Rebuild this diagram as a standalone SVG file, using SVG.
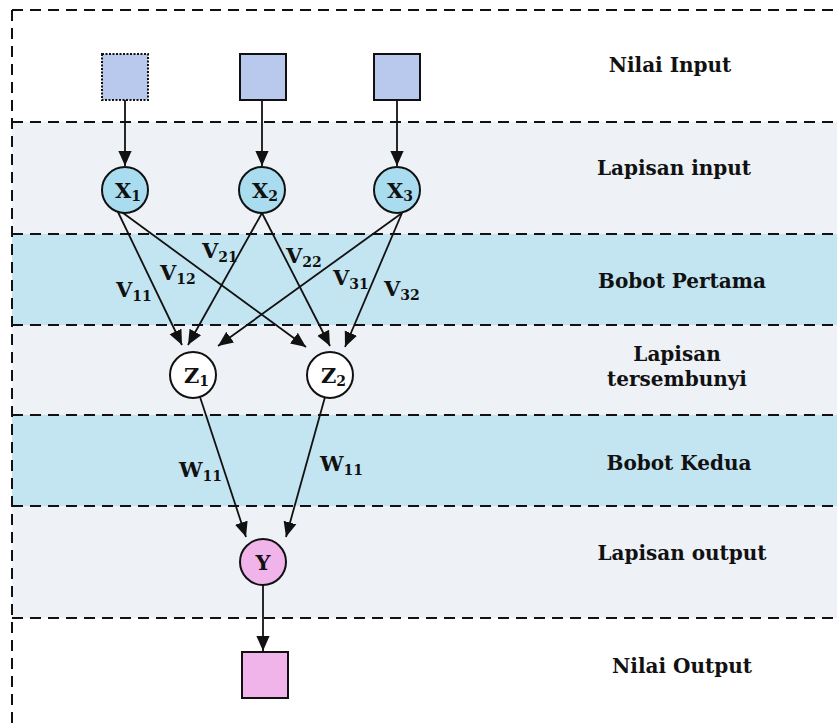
<svg xmlns="http://www.w3.org/2000/svg" width="837" height="728" viewBox="0 0 837 728">
<defs>
<marker id="ahb" viewBox="0 0 10 10" refX="10" refY="5" markerWidth="15" markerHeight="15" markerUnits="userSpaceOnUse" orient="auto">
<path d="M0,0.6 L10,5 L0,9.4 z" fill="#111"/>
</marker>
</defs>
<style>
text{font-family:"DejaVu Serif","Liberation Serif",serif;font-weight:bold;fill:#111}
.dash{stroke:#111;stroke-width:2;stroke-dasharray:11 7;fill:none}
.lbl{font-size:20px;text-anchor:middle}
.el{font-size:21px}
.sub{font-size:14px}
.nd{font-size:21px}
.edge{stroke:#111;stroke-width:1.8;fill:none;marker-end:url(#ahb)}
.sq{fill:#b9c9ee;stroke:#111;stroke-width:2}
.cx{fill:#a9dcef;stroke:#111;stroke-width:2}
.cz{fill:#fff;stroke:#111;stroke-width:2}
.cy{fill:#f0b3ea;stroke:#111;stroke-width:2}
</style>
<rect width="837" height="728" fill="#fff"/>
<g id="bands">
<rect x="12" y="122" width="825" height="112" fill="#eef2f7"/>
<rect x="12" y="234" width="825" height="91" fill="#c3e5f2"/>
<rect x="12" y="325" width="825" height="90" fill="#eef2f7"/>
<rect x="12" y="415" width="825" height="91" fill="#c3e5f2"/>
<rect x="12" y="506" width="825" height="112" fill="#eef2f7"/>
<line class="dash" x1="12" y1="10" x2="837" y2="10"/>
<line class="dash" x1="12" y1="10" x2="12" y2="728"/>
<line class="dash" x1="12" y1="122" x2="837" y2="122"/>
<line class="dash" x1="12" y1="234" x2="837" y2="234"/>
<line class="dash" x1="12" y1="325" x2="837" y2="325"/>
<line class="dash" x1="12" y1="415" x2="837" y2="415"/>
<line class="dash" x1="12" y1="506" x2="837" y2="506"/>
<line class="dash" x1="12" y1="618" x2="837" y2="618"/>
</g>
<g id="layer-labels">
<text class="lbl" x="670" y="72">Nilai Input</text>
<text class="lbl" x="674" y="175">Lapisan input</text>
<text class="lbl" x="682" y="288">Bobot Pertama</text>
<text class="lbl" x="677" y="361">Lapisan</text>
<text class="lbl" x="677" y="386">tersembunyi</text>
<text class="lbl" x="679" y="470">Bobot Kedua</text>
<text class="lbl" x="682" y="560">Lapisan output</text>
<text class="lbl" x="682" y="673">Nilai Output</text>
</g>
<g id="connectors">
<line class="edge" x1="125" y1="100" x2="125" y2="166"/>
<line class="edge" x1="262" y1="100" x2="262" y2="166"/>
<line class="edge" x1="397" y1="100" x2="397" y2="166"/>
<line class="edge" x1="117" y1="210" x2="182" y2="345"/>
<line class="edge" x1="119" y1="210" x2="306" y2="347"/>
<line class="edge" x1="262" y1="213" x2="188" y2="345"/>
<line class="edge" x1="262" y1="213" x2="330" y2="346"/>
<line class="edge" x1="402" y1="213" x2="218" y2="346"/>
<line class="edge" x1="402" y1="213" x2="345" y2="347"/>
<line class="edge" x1="200" y1="397" x2="246" y2="537"/>
<line class="edge" x1="325" y1="397" x2="286" y2="537"/>
<line class="edge" x1="263" y1="585" x2="263" y2="651"/>
</g>
<g id="edge-labels">
<text class="el" x="116" y="297">V<tspan class="sub" dy="4">11</tspan></text>
<text class="el" x="160" y="280">V<tspan class="sub" dy="4">12</tspan></text>
<text class="el" x="202" y="258">V<tspan class="sub" dy="4">21</tspan></text>
<text class="el" x="286" y="263">V<tspan class="sub" dy="4">22</tspan></text>
<text class="el" x="333" y="285">V<tspan class="sub" dy="4">31</tspan></text>
<text class="el" x="384" y="296">V<tspan class="sub" dy="4">32</tspan></text>
<text class="el" x="179" y="477">W<tspan class="sub" dy="4">11</tspan></text>
<text class="el" x="320" y="471">W<tspan class="sub" dy="4">11</tspan></text>
</g>
<g id="in1"><rect class="sq" x="102" y="54" width="46" height="46" stroke-dasharray="2 1.5"/></g>
<g id="in2"><rect class="sq" x="240" y="54" width="46" height="46"/></g>
<g id="in3"><rect class="sq" x="374" y="54" width="46" height="46"/></g>
<g id="x1"><circle class="cx" cx="125" cy="190" r="23"/><text class="nd" x="115" y="198">X<tspan class="sub" dy="3">1</tspan></text></g>
<g id="x2"><circle class="cx" cx="262" cy="190" r="23"/><text class="nd" x="252" y="198">X<tspan class="sub" dy="3">2</tspan></text></g>
<g id="x3"><circle class="cx" cx="397" cy="190" r="23"/><text class="nd" x="387" y="198">X<tspan class="sub" dy="3">3</tspan></text></g>
<g id="z1"><circle class="cz" cx="193" cy="375" r="23"/><text class="nd" x="184" y="383">Z<tspan class="sub" dy="3">1</tspan></text></g>
<g id="z2"><circle class="cz" cx="330" cy="375" r="23"/><text class="nd" x="321" y="383">Z<tspan class="sub" dy="3">2</tspan></text></g>
<g id="y"><circle class="cy" cx="263" cy="562" r="23"/><text class="nd" x="263" y="570" text-anchor="middle">Y</text></g>
<g id="out"><rect x="242" y="652" width="46" height="46" fill="#f0b3ea" stroke="#111" stroke-width="2"/></g>
</svg>
